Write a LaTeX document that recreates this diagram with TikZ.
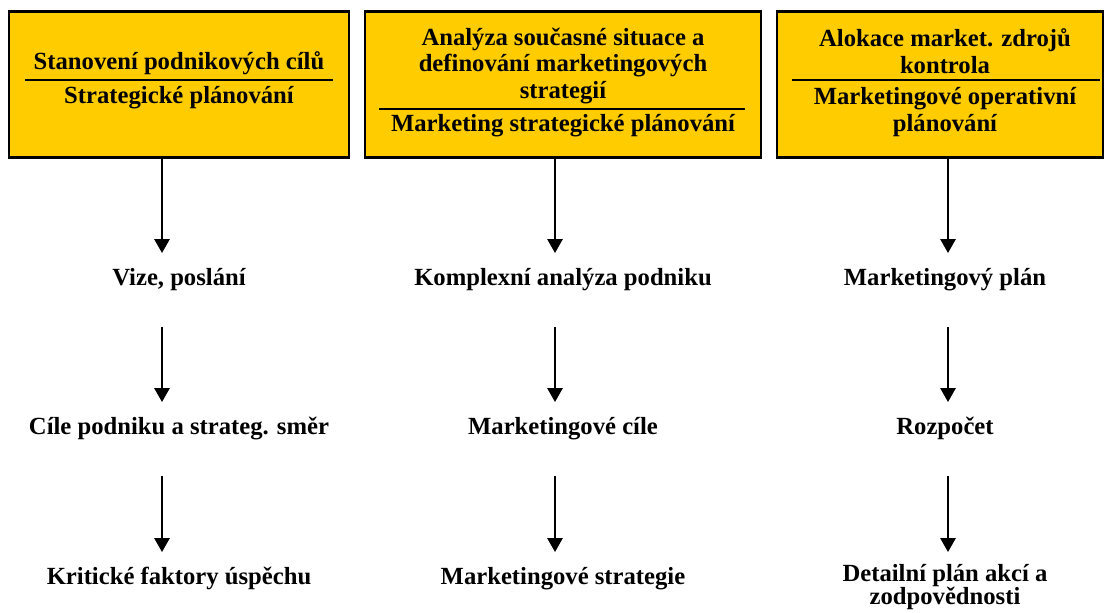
\documentclass[tikz,border=0pt]{standalone}
\usepackage{fontspec}
\setmainfont{Liberation Serif}
\usetikzlibrary{arrows.meta,positioning}
\definecolor{mkgold}{RGB}{255,204,0}
\newcommand{\mkfont}{\bfseries\fontsize{18.5}{20}\selectfont}
\tikzset{
  mkbox/.style={draw=black, line width=2.2pt, fill=mkgold, inner sep=0pt, minimum height=110pt},
  mkhead/.style={align=center, font=\mkfont, inner sep=0pt},
  mkstep/.style={align=center, font=\mkfont, inner xsep=0pt, inner ysep=11pt, anchor=north},
  mkone/.style={mkstep, text height=13pt, text depth=4pt},
  mkrule/.style={line width=0.8pt},
  mkarr/.style={-{Triangle[length=10.5pt,width=11.5pt]}, line width=1.5pt}
}

\begin{document}
\begin{tikzpicture}[x=0.75pt, y=-0.75pt]
  \useasboundingbox (0,0) rectangle (1109,613);
  % upper boxes
  \node[mkbox, minimum width=255pt] (box1) at (179,84.5) {};
  \node[mkbox, minimum width=297pt] (box2) at (563,84.5) {};
  \node[mkbox, minimum width=244.5pt] (box3) at (940,84.5) {};
  \node[mkhead] (top1) at (179,63) {Stanovení podnikových cílů};
  \node[mkhead] (sub1) at (179,98) {Strategické plánování};
  \draw[mkrule] (25,80) -- (333,80);
  \node[mkhead] (top2) at (563,66) {Analýza současné situace a\\definování marketingových\\strategií};
  \node[mkhead] (sub2) at (563,126) {Marketing strategické plánování};
  \draw[mkrule] (379,109) -- (745,109);
  \node[mkhead] (top3) at (945,51) {Alokace market. zdrojů\\kontrola};
  \node[mkhead] (sub3) at (945,112) {Marketingové operativní\\plánování};
  \draw[mkrule] (792,80) -- (1100,80);
  % steps
  \node[mkone] (vize) at (179,253) {Vize, poslání};
  \node[mkone] (cile) at (179,402) {Cíle podniku a strateg. směr};
  \node[mkone] (faktory) at (179,552) {Kritické faktory úspěchu};
  \node[mkone] (analyza) at (563,253) {Komplexní analýza podniku};
  \node[mkone] (mcile) at (563,402) {Marketingové cíle};
  \node[mkone] (mstrat) at (563,552) {Marketingové strategie};
  \node[mkone] (mplan) at (945,253) {Marketingový plán};
  \node[mkone] (rozpocet) at (945,402) {Rozpočet};
  \node[mkstep, inner ysep=9pt] (detail) at (945,552) {Detailní plán akcí a\\[-3pt]zodpovědnosti};
  % arrows
  \coordinate (a1) at (162,0);
  \coordinate (a2) at (555,0);
  \coordinate (a3) at (948,0);
  \draw[mkarr] (box1.south -| a1) -- (vize.north -| a1);
  \draw[mkarr, shorten <=16pt] (vize.south -| a1) -- (cile.north -| a1);
  \draw[mkarr, shorten <=16pt] (cile.south -| a1) -- (faktory.north -| a1);
  \draw[mkarr] (box2.south -| a2) -- (analyza.north -| a2);
  \draw[mkarr, shorten <=16pt] (analyza.south -| a2) -- (mcile.north -| a2);
  \draw[mkarr, shorten <=16pt] (mcile.south -| a2) -- (mstrat.north -| a2);
  \draw[mkarr] (box3.south -| a3) -- (mplan.north -| a3);
  \draw[mkarr, shorten <=16pt] (mplan.south -| a3) -- (rozpocet.north -| a3);
  \draw[mkarr, shorten <=16pt] (rozpocet.south -| a3) -- (detail.north -| a3);
\end{tikzpicture}
\end{document}
